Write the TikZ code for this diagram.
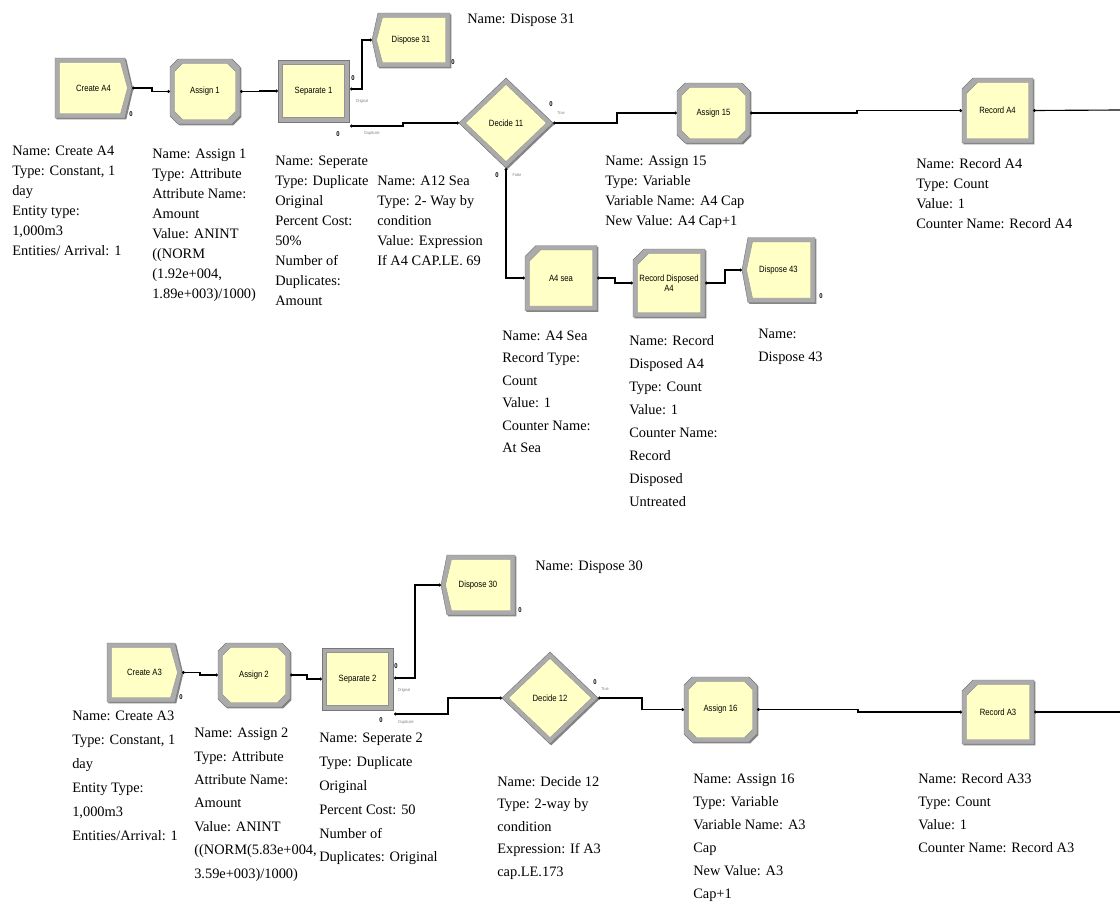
\documentclass[tikz,border=0pt]{standalone}
\usepackage{fontspec}
\setmainfont{Liberation Serif}
\newfontfamily\lblfont[FakeStretch=0.85]{Liberation Sans}
\usetikzlibrary{arrows.meta}

\definecolor{modfill}{HTML}{FFFFC6}
\definecolor{modrim}{HTML}{ABABAB}
\definecolor{modedge}{HTML}{777777}
\definecolor{modshade}{HTML}{858585}

\tikzset{
 modshadow/.style={fill=modshade},
 modout/.style={fill=modrim, draw=modedge, line width=0.35pt},
 modin/.style={fill=modfill, draw=modedge!80, line width=0.3pt},
 modlbl/.style={inner sep=0pt, outer sep=0pt, align=center, font=\lblfont\fontsize{6.8}{7.6}\selectfont},
 conn/.style={line width=0.85pt, black, {Circle[length=2.2pt]}-{Circle[length=2.2pt]}},
 connfree/.style={line width=0.85pt, black, {Circle[length=2.2pt]}-},
 info/.style={anchor=north west, inner sep=0pt, align=left, font=\fontsize{10.8}{#1}\selectfont},
 info/.default=15,
 zero/.style={font=\lblfont\bfseries\fontsize{5.2}{6}\selectfont, inner sep=0pt},
 portlbl/.style={font=\lblfont\fontsize{3.2}{4}\selectfont, text=gray, inner sep=0pt},
}

\newcommand{\shpCreate}[3]{\path[#1] ({-(#2)/2},{-(#3)/2}) -- ({(#2)/2-7},{-(#3)/2}) -- ({(#2)/2},0) -- ({(#2)/2-7},{(#3)/2}) -- ({-(#2)/2},{(#3)/2}) -- cycle;}
\newcommand{\shpAssign}[3]{\path[#1] ({-(#2)/2+8},{-(#3)/2}) -- ({(#2)/2-8},{-(#3)/2}) -- ({(#2)/2},{-(#3)/2+8}) -- ({(#2)/2},{(#3)/2-8}) -- ({(#2)/2-8},{(#3)/2}) -- ({-(#2)/2+8},{(#3)/2}) -- ({-(#2)/2},{(#3)/2-8}) -- ({-(#2)/2},{-(#3)/2+8}) -- cycle;}
\newcommand{\shpRecord}[3]{\path[#1] ({-(#2)/2+11},{-(#3)/2}) -- ({(#2)/2},{-(#3)/2}) -- ({(#2)/2},{(#3)/2}) -- ({-(#2)/2},{(#3)/2}) -- ({-(#2)/2},{-(#3)/2+11}) -- cycle;}
\newcommand{\shpDispose}[3]{\path[#1] ({-(#2)/2+6},{-(#3)/2}) -- ({(#2)/2},{-(#3)/2}) -- ({(#2)/2},{(#3)/2}) -- ({-(#2)/2+6},{(#3)/2}) -- ({-(#2)/2},0) -- cycle;}
\newcommand{\shpSeparate}[3]{\path[#1] ({-(#2)/2},{-(#3)/2}) rectangle ({(#2)/2},{(#3)/2});}
\newcommand{\shpDecide}[3]{\path[#1] ({-(#2)/2},0) -- (0,{-(#3)/2}) -- ({(#2)/2},0) -- (0,{(#3)/2}) -- cycle;}

% #1 shape, #2 name, #3 cx, #4 cy, #5 W, #6 H, #7 inset, #8 label
\newcommand{\amod}[8]{%
 \begin{scope}[shift={(#3,#4)}]
  \begin{scope}[shift={(1.3,1.3)}]#1{modshadow}{#5}{#6}\end{scope}
  #1{modout}{#5}{#6}
  #1{modin}{#5-#7}{#6-#7}
 \end{scope}
 \node[modlbl, minimum width={(#5)*0.75pt}, minimum height={(#6)*0.75pt}] (#2) at (#3,#4) {#8};
}

\begin{document}
\begin{tikzpicture}[x=0.75pt,y=-0.75pt]
\useasboundingbox[fill=white] (0,0) rectangle (1120,903);

% ---------------- top line ----------------
\amod{\shpCreate}{cA4}{93.5}{88}{77}{60}{9}{Create A4}
\amod{\shpAssign}{as1}{205}{91.5}{70}{65}{9}{Assign 1}
\amod{\shpSeparate}{sep1}{313.5}{91}{71}{62}{9}{Separate 1}
\amod{\shpDispose}{dsp31}{411}{40}{78}{54}{9}{Dispose 31}
\amod{\shpDecide}{dec11}{506}{123}{94}{90}{13}{Decide 11}
\amod{\shpAssign}{as15}{713.5}{113}{73}{60}{9}{Assign 15}
\amod{\shpRecord}{recA4}{997.5}{110.5}{71}{65}{9}{Record A4}
\amod{\shpRecord}{a4sea}{561}{278}{72}{65}{9}{A4 sea}
\amod{\shpRecord}{recDisp}{669}{283}{72}{68}{9}{Record Disposed\\A4}
\amod{\shpDispose}{dsp43}{778.5}{270}{73}{65}{9}{Dispose 43}

\coordinate (s1o) at (350,89);
\coordinate (s1d) at (350,126);
\coordinate (endA4) at (1120,110);

\draw[conn] (cA4.east) -- ++(20,0) |- (as1.west);
\draw[conn] (as1.east) -- ++(20,0) |- (sep1.west);
\draw[conn] (s1o) -- ++(12,0) |- (dsp31.west);
\draw[conn] (s1d) -- ++(53,0) |- (dec11.west);
\draw[conn] (dec11.east) -- ++(64,0) |- (as15.west);
\draw[conn] (as15.east) -- ++(107,0) |- (recA4.west);
\draw[connfree] (recA4.east) -- (endA4);
\draw[conn] (dec11.south) |- (a4sea.west);
\draw[conn] (a4sea.east) -- ++(18,0) |- (recDisp.west);
\draw[conn] (recDisp.east) -- ++(20,0) |- (dsp43.west);

\node[zero] (z1) at (131,114) {0};
\node[zero] (z2) at (353,78) {0};
\node[portlbl] (p1) at (362,101) {Original};
\node[zero] (z3) at (338,134) {0};
\node[portlbl] (p2) at (372,133) {Duplicate};
\node[zero] (z4) at (453,62) {0};
\node[zero] (z5) at (551,104) {0};
\node[portlbl] (p3) at (561,113) {True};
\node[zero] (z6) at (497,175) {0};
\node[portlbl] (p4) at (517,175) {False};
\node[zero] (z7) at (821,296) {0};

\node[info] (iCA4) at (12,141) {\strut Name: Create A4\\Type: Constant, 1\\day\\Entity type:\\1,000m3\\Entities/ Arrival: 1};
\node[info] (iAs1) at (152,144) {\strut Name: Assign 1\\Type: Attribute\\Attribute Name:\\Amount\\Value: ANINT\\((NORM\\(1.92e+004,\\1.89e+003)/1000)};
\node[info] (iSep1) at (275,151) {\strut Name: Seperate\\Type: Duplicate\\Original\\Percent Cost:\\50\%\\Number of\\Duplicates:\\Amount};
\node[info] (iDec11) at (377,171) {\strut Name: A12 Sea\\Type: 2- Way by\\condition\\Value: Expression\\If A4 CAP.LE. 69};
\node[info] (iAs15) at (605,151) {\strut Name: Assign 15\\Type: Variable\\Variable Name: A4 Cap\\New Value: A4 Cap+1};
\node[info] (iRecA4) at (916,154) {\strut Name: Record A4\\Type: Count\\Value: 1\\Counter Name: Record A4};
\node[info] (iDsp31) at (467,9) {\strut Name: Dispose 31};
\node[info=16.9] (iA4sea) at (502,324) {\strut Name: A4 Sea\\Record Type:\\Count\\Value: 1\\Counter Name:\\At Sea};
\node[info=17.25] (iRecDisp) at (629,329) {\strut Name: Record\\Disposed A4\\Type: Count\\Value: 1\\Counter Name:\\Record\\Disposed\\Untreated};
\node[info=17.25] (iDsp43) at (758,322) {\strut Name:\\Dispose 43};

% ---------------- bottom line ----------------
\amod{\shpCreate}{cA3}{144.5}{672.5}{75}{59}{9}{Create A3}
\amod{\shpAssign}{as2}{254}{675}{72}{64}{9}{Assign 2}
\amod{\shpSeparate}{sep2}{357.5}{679}{71}{62}{9}{Separate 2}
\amod{\shpDispose}{dsp30}{478}{585}{74}{60}{9}{Dispose 30}
\amod{\shpDecide}{dec12}{550}{698}{96}{92}{13}{Decide 12}
\amod{\shpAssign}{as16}{720.5}{709.5}{73}{65}{9}{Assign 16}
\amod{\shpRecord}{recA3}{998}{712}{72}{64}{9}{Record A3}

\coordinate (s2o) at (394,678);
\coordinate (s2d) at (394,714);
\coordinate (endA3) at (1120,712);

\draw[conn] (cA3.east) -- ++(18,0) |- (as2.west);
\draw[conn] (as2.east) -- ++(17,0) |- (sep2.west);
\draw[conn] (s2o) -- ++(21,0) |- (dsp30.west);
\draw[conn] (s2d) -- ++(54,0) |- (dec12.west);
\draw[conn] (dec12.east) -- ++(44,0) |- (as16.west);
\draw[conn] (as16.east) -- ++(101,0) |- (recA3.west);
\draw[connfree] (recA3.east) -- (endA3);

\node[zero] (z8) at (181,697) {0};
\node[zero] (z9) at (396,666) {0};
\node[portlbl] (p5) at (404,690) {Original};
\node[zero] (z10) at (381,720) {0};
\node[portlbl] (p6) at (406,722) {Duplicate};
\node[zero] (z11) at (520,610) {0};
\node[zero] (z12) at (595,682) {0};
\node[portlbl] (p7) at (605,689) {True};

\node[info] (iDsp30) at (535,556) {\strut Name: Dispose 30};
\node[info=18] (iCA3) at (72,703) {\strut Name: Create A3\\Type: Constant, 1\\day\\Entity Type:\\1,000m3\\Entities/Arrival: 1};
\node[info=17.55] (iAs2) at (194,721) {\strut Name: Assign 2\\Type: Attribute\\Attribute Name:\\Amount\\Value: ANINT\\((NORM(5.83e+004,\\3.59e+003)/1000)};
\node[info=17.85] (iSep2) at (319,726) {\strut Name: Seperate 2\\Type: Duplicate\\Original\\Percent Cost: 50\\Number of\\Duplicates: Original};
\node[info=16.9] (iDec12) at (497,770) {\strut Name: Decide 12\\Type: 2-way by\\condition\\Expression: If A3\\cap.LE.173};
\node[info=17.25] (iAs16) at (693,767) {\strut Name: Assign 16\\Type: Variable\\Variable Name: A3\\Cap\\New Value: A3\\Cap+1};
\node[info=17.25] (iRecA3) at (918,767) {\strut Name: Record A33\\Type: Count\\Value: 1\\Counter Name: Record A3};
\end{tikzpicture}
\end{document}
